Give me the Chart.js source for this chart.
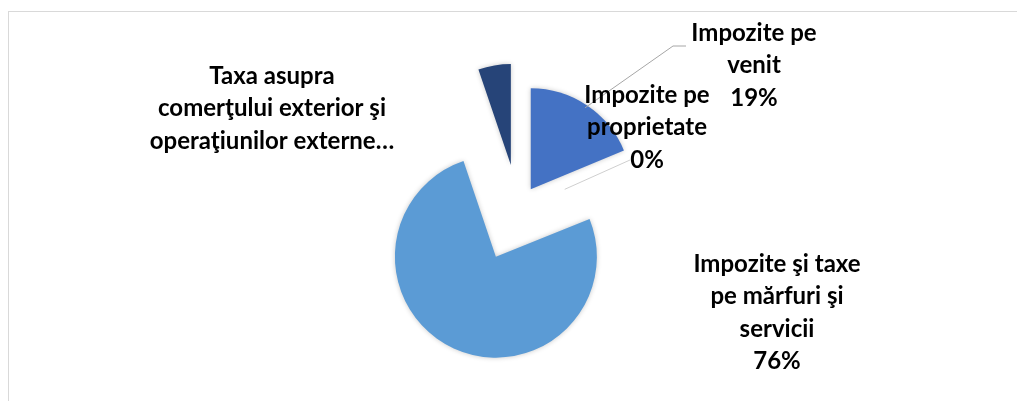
<!DOCTYPE html>
<html>
<head>
<meta charset="utf-8">
<script src="https://cdn.jsdelivr.net/npm/chart.js@4/dist/chart.umd.min.js"></script>
<style>
  html, body { margin: 0; padding: 0; background: #fff; }
  #wrap { position: relative; width: 1017px; height: 401px; overflow: hidden; }
  #frame { position: absolute; left: 8px; top: 11px; width: 1100px; height: 500px; border: 1px solid #d9d9d9; }
  #c { position: absolute; left: 0; top: 0; }
</style>
</head>
<body>
<div id="wrap">
  <div id="frame"></div>
  <canvas id="c" width="1017" height="401"></canvas>
</div>
<script>
// categories and values (share of tax revenue)
const categories = [
    "Impozite pe venit",
    "Impozite pe proprietate",
    "Impozite şi taxe pe mărfuri şi servicii",
    "Taxa asupra comerţului exterior şi operaţiunilor externe"
];
const values = [18.7, 0.2, 75.9, 5.2];

// how the labels wrap in the picture (last one is cut off, no percent)
const labelLines = [
    ["Impozite pe", "venit"],
    ["Impozite pe", "proprietate"],
    ["Impozite şi taxe", "pe mărfuri şi", "servicii"],
    ["Taxa asupra", "comerţului exterior şi", "operaţiunilor externe…"]
];
const showPercent = [true, true, true, false];

// ---- styling / layout ----
// the 0% slice is not visible in the picture
const colors = ["#4472C4", "rgba(0,0,0,0)", "#5B9BD5", "#264478"];
const explode = [23, 0, 53, 44];
const labelPos = [[754, 33], [647, 95], [777, 264], [272, 76]];
const lineGap = 32.5;

const total = values.reduce((a, b) => a + b, 0);

const explodePlugin = {
    id: "explode",
    beforeDatasetDraw(chart, args) {
        const ctx = chart.ctx;
        args.meta.data.forEach((arc, i) => {
            const mid = (arc.startAngle + arc.endAngle) / 2;
            ctx.save();
            ctx.shadowColor = "rgba(0,0,0,0.22)";
            ctx.shadowBlur = 5;
            ctx.translate(Math.cos(mid) * explode[i], Math.sin(mid) * explode[i]);
            arc.draw(ctx);
            ctx.restore();
        });
        return false;
    }
};

const labelPlugin = {
    id: "sliceLabels",
    afterDatasetsDraw(chart) {
        const ctx = chart.ctx;
        const arcs = chart.getDatasetMeta(0).data;

        // leader lines
        ctx.save();
        ctx.lineWidth = 1;
        // venit: from outer edge of the exploded slice
        let a = arcs[0];
        let mid = (a.startAngle + a.endAngle) / 2;
        let r = a.outerRadius + explode[0] - 3;
        ctx.strokeStyle = "#a6a6a6";
        ctx.beginPath();
        ctx.moveTo(a.x + Math.cos(mid) * r, a.y + Math.sin(mid) * r);
        ctx.lineTo(673, 46);
        ctx.lineTo(686, 46);
        ctx.stroke();
        // proprietate: from the slice's centre point
        a = arcs[1];
        const p = a.getCenterPoint();
        ctx.strokeStyle = "#cfcfcf";
        ctx.beginPath();
        ctx.moveTo(p.x, p.y);
        ctx.lineTo(630, 160);
        ctx.stroke();
        ctx.restore();

        // text
        ctx.save();
        ctx.font = "bold 24px Lato, 'Open Sans', sans-serif";
        ctx.fillStyle = "#000";
        ctx.textAlign = "center";
        ctx.textBaseline = "middle";
        labelLines.forEach((lines, i) => {
            const all = lines.slice();
            if (showPercent[i]) all.push(Math.round(values[i] / total * 100) + "%");
            all.forEach((t, k) => {
                ctx.fillText(t, labelPos[i][0], labelPos[i][1] + k * lineGap);
            });
        });
        ctx.restore();
    }
};

new Chart(document.getElementById("c"), {
    type: "pie",
    data: {
        labels: categories,
        datasets: [{
            data: values,
            backgroundColor: colors,
            borderWidth: 0
        }]
    },
    options: {
        responsive: false,
        animation: false,
        events: [],
        radius: 101,
        layout: { padding: { left: 19, right: 0, top: 16, bottom: 0 } },
        plugins: {
            legend: { display: false },
            tooltip: { enabled: false }
        }
    },
    plugins: [explodePlugin, labelPlugin]
});
</script>
</body>
</html>
